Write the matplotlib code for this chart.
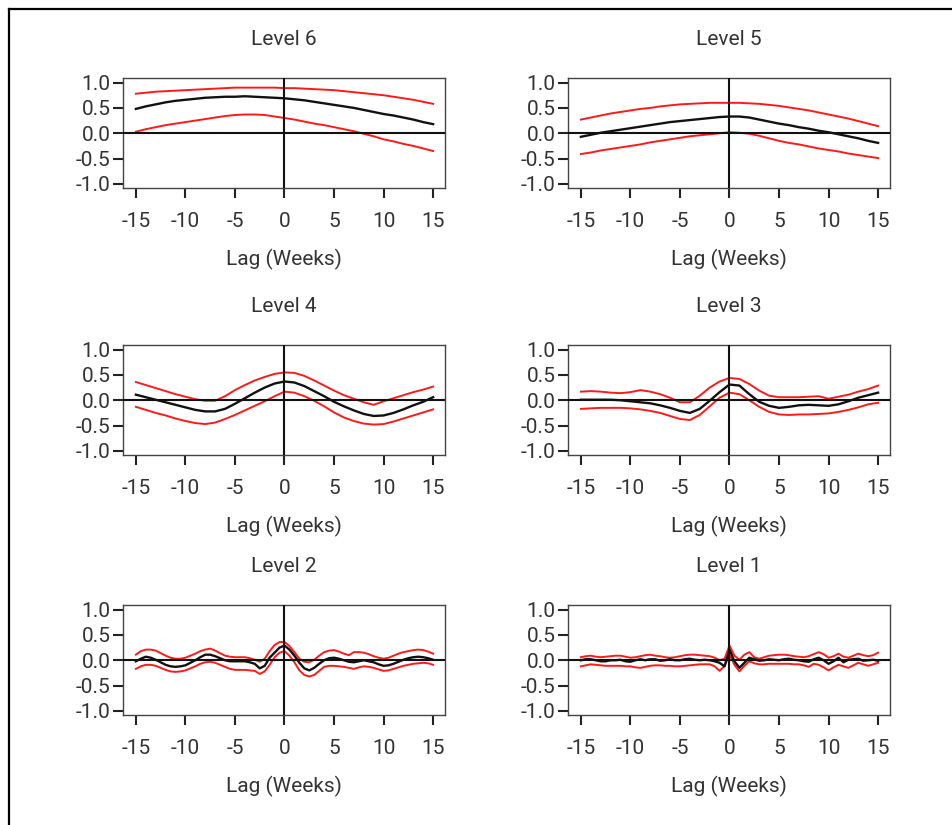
import numpy as np
import matplotlib
matplotlib.use("Agg")
import matplotlib.pyplot as plt
from matplotlib.lines import Line2D

plt.rcParams['font.family'] = ['Roboto', 'DejaVu Sans']

# ---------------- data ----------------
lags_int = np.arange(-15, 16)
lags_half = np.arange(-15, 15.5, 0.5)

titles = ["Level 6", "Level 5", "Level 4", "Level 3", "Level 2", "Level 1"]
xlabel = "Lag (Weeks)"
xticks = [-15, -10, -5, 0, 5, 10, 15]
yticks = [-1.0, -0.5, 0.0, 0.5, 1.0]

l6_upper = [0.78, 0.80, 0.82, 0.83, 0.84, 0.85, 0.86, 0.87, 0.88, 0.89, 0.90, 0.90, 0.90, 0.90, 0.90, 0.89,
            0.89, 0.88, 0.87, 0.86, 0.85, 0.83, 0.81, 0.79, 0.77, 0.75, 0.72, 0.69, 0.66, 0.62, 0.58]
l6_est = [0.48, 0.53, 0.57, 0.61, 0.64, 0.66, 0.68, 0.70, 0.71, 0.72, 0.72, 0.73, 0.72, 0.71, 0.70, 0.69,
          0.67, 0.65, 0.62, 0.59, 0.56, 0.53, 0.50, 0.46, 0.42, 0.38, 0.35, 0.31, 0.27, 0.22, 0.18]
l6_lower = [0.03, 0.08, 0.12, 0.16, 0.19, 0.22, 0.25, 0.28, 0.31, 0.34, 0.36, 0.37, 0.37, 0.36, 0.33, 0.30,
            0.27, 0.23, 0.19, 0.16, 0.12, 0.08, 0.04, -0.01, -0.06, -0.12, -0.16, -0.21, -0.25, -0.30, -0.35]

l5_upper = [0.27, 0.31, 0.35, 0.39, 0.42, 0.45, 0.48, 0.50, 0.53, 0.55, 0.57, 0.58, 0.59, 0.60, 0.60, 0.60,
            0.60, 0.59, 0.58, 0.56, 0.54, 0.51, 0.48, 0.45, 0.41, 0.37, 0.33, 0.29, 0.24, 0.19, 0.14]
l5_est = [-0.07, -0.03, 0.01, 0.04, 0.07, 0.10, 0.13, 0.16, 0.19, 0.22, 0.24, 0.26, 0.28, 0.30, 0.32, 0.33,
          0.33, 0.31, 0.27, 0.23, 0.19, 0.16, 0.12, 0.09, 0.05, 0.02, -0.02, -0.06, -0.10, -0.15, -0.19]
l5_lower = [-0.41, -0.38, -0.34, -0.31, -0.28, -0.25, -0.22, -0.18, -0.15, -0.12, -0.09, -0.06, -0.04, -0.02, 0.00, 0.02,
            0.01, -0.01, -0.05, -0.10, -0.15, -0.19, -0.22, -0.26, -0.30, -0.33, -0.36, -0.40, -0.43, -0.46, -0.49]

l4_upper = [0.36, 0.30, 0.24, 0.18, 0.12, 0.07, 0.02, -0.01, -0.01, 0.08, 0.20, 0.30, 0.39, 0.46, 0.52, 0.55,
            0.54, 0.48, 0.39, 0.29, 0.19, 0.10, 0.03, -0.04, -0.09, -0.02, 0.04, 0.10, 0.16, 0.21, 0.27]
l4_est = [0.11, 0.06, 0.01, -0.04, -0.09, -0.14, -0.19, -0.22, -0.22, -0.17, -0.07, 0.04, 0.15, 0.25, 0.33, 0.37,
          0.35, 0.28, 0.18, 0.08, -0.03, -0.12, -0.20, -0.27, -0.31, -0.30, -0.25, -0.18, -0.10, -0.03, 0.06]
l4_lower = [-0.13, -0.19, -0.25, -0.30, -0.36, -0.41, -0.45, -0.47, -0.44, -0.37, -0.29, -0.20, -0.11, -0.02, 0.08, 0.17,
            0.15, 0.08, -0.01, -0.12, -0.24, -0.34, -0.41, -0.46, -0.48, -0.47, -0.42, -0.36, -0.30, -0.24, -0.18]

l3_upper = [0.17, 0.18, 0.17, 0.15, 0.14, 0.16, 0.20, 0.17, 0.12, 0.05, -0.04, -0.04, 0.09, 0.25, 0.37, 0.44,
            0.42, 0.32, 0.19, 0.09, 0.06, 0.06, 0.06, 0.07, 0.08, 0.03, 0.07, 0.11, 0.17, 0.22, 0.29]
l3_est = [0.01, 0.01, 0.01, 0.01, 0.00, -0.02, -0.04, -0.06, -0.10, -0.15, -0.21, -0.25, -0.17, -0.01, 0.16, 0.31,
          0.29, 0.12, -0.03, -0.11, -0.15, -0.13, -0.10, -0.09, -0.10, -0.11, -0.08, -0.02, 0.05, 0.10, 0.15]
l3_lower = [-0.17, -0.16, -0.15, -0.15, -0.15, -0.16, -0.18, -0.21, -0.25, -0.31, -0.37, -0.39, -0.29, -0.12, 0.05, 0.15,
            0.12, 0.00, -0.13, -0.23, -0.28, -0.29, -0.28, -0.28, -0.27, -0.26, -0.23, -0.19, -0.14, -0.08, -0.05]

l2_upper = [0.11, 0.18, 0.21, 0.21, 0.19, 0.14, 0.09, 0.05, 0.03, 0.03, 0.05, 0.09, 0.13, 0.18, 0.21, 0.23,
            0.19, 0.14, 0.09, 0.07, 0.06, 0.06, 0.06, 0.04, 0.01, -0.03, 0.03, 0.18, 0.30, 0.36, 0.36,
            0.28, 0.16, 0.03, -0.03, -0.04, 0.01, 0.09, 0.16, 0.19, 0.20, 0.17, 0.13, 0.10, 0.16, 0.16,
            0.15, 0.12, 0.08, 0.05, 0.03, 0.05, 0.09, 0.13, 0.16, 0.18, 0.20, 0.21, 0.20, 0.17, 0.13]
l2_est = [-0.02, 0.03, 0.07, 0.05, 0.01, -0.04, -0.09, -0.12, -0.13, -0.12, -0.10, -0.05, 0.00, 0.06, 0.11, 0.11,
          0.08, 0.04, 0.00, -0.02, -0.02, -0.02, -0.02, -0.04, -0.07, -0.16, -0.11, 0.05, 0.15, 0.25, 0.29,
          0.21, 0.09, -0.05, -0.16, -0.20, -0.15, -0.07, 0.00, 0.04, 0.05, 0.03, 0.00, -0.03, -0.04, -0.02,
          0.00, -0.02, -0.04, -0.08, -0.11, -0.10, -0.07, -0.03, 0.01, 0.04, 0.06, 0.07, 0.06, 0.04, 0.01]
l2_lower = [-0.17, -0.12, -0.09, -0.09, -0.11, -0.15, -0.19, -0.22, -0.23, -0.22, -0.20, -0.16, -0.12, -0.07, -0.04, -0.03,
            -0.05, -0.09, -0.13, -0.17, -0.19, -0.19, -0.19, -0.20, -0.21, -0.27, -0.22, -0.09, 0.06, 0.15, 0.18,
            0.09, -0.04, -0.20, -0.29, -0.32, -0.29, -0.21, -0.13, -0.11, -0.11, -0.12, -0.13, -0.15, -0.17, -0.14,
            -0.12, -0.13, -0.15, -0.18, -0.21, -0.20, -0.17, -0.14, -0.11, -0.09, -0.07, -0.06, -0.05, -0.06, -0.09]

l1_upper = [0.06, 0.08, 0.09, 0.07, 0.06, 0.07, 0.08, 0.09, 0.09, 0.07, 0.05, 0.06, 0.08, 0.10, 0.11, 0.09,
            0.08, 0.06, 0.05, 0.06, 0.08, 0.10, 0.11, 0.11, 0.10, 0.09, 0.08, 0.05, 0.00, 0.03, 0.29,
            0.09, 0.01, 0.11, 0.16, 0.06, 0.03, 0.06, 0.09, 0.10, 0.11, 0.11, 0.10, 0.08, 0.07, 0.06,
            0.08, 0.12, 0.16, 0.12, 0.05, 0.08, 0.13, 0.07, 0.05, 0.09, 0.13, 0.10, 0.08, 0.10, 0.15]
l1_est = [0.00, 0.02, 0.02, 0.00, -0.02, -0.02, 0.00, 0.00, 0.01, -0.02, -0.03, 0.00, 0.02, 0.00, 0.02, 0.02,
          -0.01, 0.00, 0.02, 0.00, 0.00, 0.02, 0.03, 0.01, 0.00, 0.01, 0.00, -0.02, -0.05, -0.12, 0.21,
          -0.02, -0.15, -0.05, 0.05, 0.02, -0.01, 0.00, 0.02, 0.01, 0.00, 0.02, 0.03, 0.01, 0.00, -0.02,
          -0.03, 0.02, 0.05, 0.00, -0.07, -0.02, 0.05, -0.04, 0.01, 0.02, 0.03, -0.01, 0.00, 0.01, -0.01]
l1_lower = [-0.12, -0.10, -0.08, -0.09, -0.10, -0.11, -0.11, -0.11, -0.11, -0.12, -0.12, -0.14, -0.15, -0.13, -0.11, -0.10,
            -0.10, -0.11, -0.11, -0.12, -0.12, -0.11, -0.10, -0.09, -0.08, -0.08, -0.08, -0.12, -0.21, -0.11, 0.11,
            -0.09, -0.22, -0.11, -0.02, -0.06, -0.08, -0.08, -0.07, -0.07, -0.07, -0.07, -0.07, -0.08, -0.08, -0.10,
            -0.13, -0.07, -0.09, -0.14, -0.20, -0.14, -0.09, -0.12, -0.15, -0.10, -0.05, -0.08, -0.11, -0.08, -0.05]

series = [
    (lags_int, l6_upper, l6_est, l6_lower),
    (lags_int, l5_upper, l5_est, l5_lower),
    (lags_int, l4_upper, l4_est, l4_lower),
    (lags_int, l3_upper, l3_est, l3_lower),
    (lags_half, l2_upper, l2_est, l2_lower),
    (lags_half, l1_upper, l1_est, l1_lower),
]

# ---------------- layout ----------------
W, H = 952, 825
fig = plt.figure(figsize=(W / 100, H / 100), dpi=100)

col_left = [123, 568]
col_w = 322
row_top = [78, 345, 605]
row_h = 110

text_col = "#333333"
red = "#ff1a1a"

for i, (title, (x, up, est, lo)) in enumerate(zip(titles, series)):
    r, c = divmod(i, 2)
    left = col_left[c] / W
    bottom = 1 - (row_top[r] + row_h) / H
    ax = fig.add_axes([left, bottom, col_w / W, row_h / H])
    ax.plot(x, up, color=red, lw=1.4, zorder=2, solid_joinstyle="round")
    ax.plot(x, lo, color=red, lw=1.4, zorder=2, solid_joinstyle="round")
    ax.plot(x, est, color="#111111", lw=1.7, zorder=2, solid_joinstyle="round")
    ax.axhline(0, color="#111111", lw=1.5, zorder=3)
    ax.axvline(0, color="#111111", lw=1.5, zorder=3)
    ax.set_xlim(-16.3, 16.2)
    ax.set_ylim(-1.08, 1.09)
    ax.set_xticks(xticks)
    ax.set_xticklabels([str(t) for t in xticks])
    ax.set_yticks(yticks)
    ax.set_yticklabels([f"{t:.1f}" for t in yticks])
    ax.tick_params(axis="both", direction="out", length=7, width=1.5, color="#222222",
                   labelsize=15, labelcolor=text_col)
    ax.tick_params(axis="x", pad=10)
    ax.tick_params(axis="y", pad=2)
    for sp in ax.spines.values():
        sp.set_color("#444444")
        sp.set_linewidth(1.0)
    ax.set_title(title, fontsize=15, color=text_col, pad=24)
    ax.set_xlabel(xlabel, fontsize=15, color=text_col, labelpad=13)

# outer border (cropped frame)
bx = 9 / W
by = 1 - 9 / H
fig.add_artist(Line2D([bx, bx], [0, by], transform=fig.transFigure, color="black", lw=1.6))
fig.add_artist(Line2D([bx, 1], [by, by], transform=fig.transFigure, color="black", lw=1.6))

fig.savefig("out.png", dpi=100)
